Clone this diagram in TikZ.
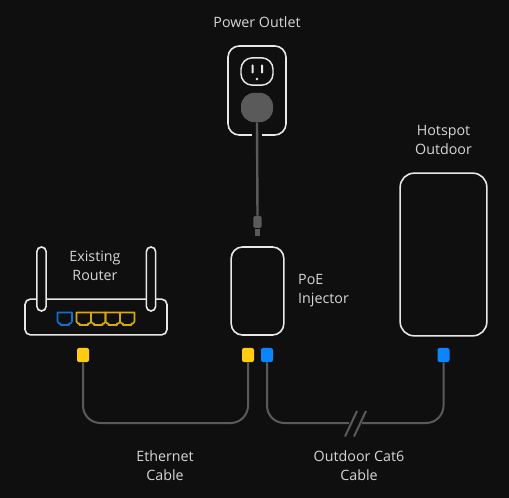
\documentclass[tikz,border=0pt]{standalone}
\usepackage{xcolor}
\usepackage{fontspec}
\setmainfont{Open Sans}
\usepackage{tikz}
\usetikzlibrary{positioning}
\definecolor{pagebg}{HTML}{0F0F0F}
\definecolor{linegray}{HTML}{5A5A5A}
\definecolor{boxline}{HTML}{E8E8E8}
\definecolor{labeltext}{HTML}{D6D6D6}
\definecolor{portyellow}{HTML}{FFCC12}
\definecolor{portblue}{HTML}{0A84FF}
\definecolor{jackblue}{HTML}{1470D0}
\definecolor{jackyellow}{HTML}{D9A912}
\tikzset{
  devbox/.style={rectangle,rounded corners=8.5pt,draw=boxline,line width=1.2pt,fill=pagebg,inner sep=0pt},
  antenna/.style={rectangle,rounded corners=3.4pt,draw=boxline,line width=1.2pt,fill=pagebg,inner sep=0pt,minimum width=6.9pt,minimum height=48pt},
  label/.style={text=labeltext,align=center,font=\fontsize{10.7}{14.25}\selectfont,inner sep=0pt},
  plugcap/.style={rectangle,rounded corners=1.6pt,minimum width=9pt,minimum height=10.6pt,inner sep=0pt},
  cable/.style={draw=linegray,line width=1.5pt,rounded corners=13pt},
  jack/.pic={\draw[line width=1.2pt,line join=round] (0,0) -- (14.5,0) -- (14.5,9) -- (13,11) -- (11.5,11) -- (11.5,12.5) -- (3,12.5) -- (3,11) -- (1.5,11) -- (0,9) -- cycle;}
}

\begin{document}
\begin{tikzpicture}[x=0.75pt,y=-0.75pt]
  \fill[pagebg] (0,0) rectangle (509,498);
  \useasboundingbox (0,0) rectangle (509,498);

  % wall outlet
  \node[devbox,minimum width=43.5pt,minimum height=66.8pt] (outlet) at (257,90.5) {};
  \draw[draw=pagebg,line width=2.5pt] ([xshift=-3.8pt]outlet.south) -- ([xshift=3.8pt]outlet.south);
  \node[rectangle,rounded corners=8.5pt,draw=boxline,line width=1.1pt,minimum width=24pt,minimum height=20.5pt,inner sep=0pt] (socket) at (257,71.5) {};
  \fill[boxline,rounded corners=0.6pt] (251.5,64.5) rectangle (253.5,73.5);
  \fill[boxline,rounded corners=0.6pt] (261,64.5) rectangle (263,73.5);
  \fill[boxline] (257,79) circle (1.1pt);
  \node[rectangle,rounded corners=10pt,fill=linegray,minimum width=24pt,minimum height=22pt,inner sep=0pt] (plug) at (257,107.5) {};
  \node[rectangle,rounded corners=1.2pt,fill=linegray,minimum width=6.2pt,minimum height=9pt,inner sep=0pt] (plughead) at (257.5,222) {};
  \node[rectangle,fill=linegray,minimum width=3.8pt,minimum height=5.5pt,inner sep=0pt,below=0pt of plughead] (plugtip) {};
  \draw[linegray,line width=1.8pt] (plug.south) -- (plughead.north);

  % devices
  \node[devbox,minimum width=39.5pt,minimum height=66pt] (injector) at (257.5,291) {};
  \node[devbox,rounded corners=10.5pt,minimum width=65pt,minimum height=122pt] (hotspot) at (443.5,254.5) {};
  \node[devbox,rounded corners=4pt,minimum width=106.5pt,minimum height=26.8pt] (router) at (96,317) {};
  \node[antenna] (antleft) at (41.5,279) {};
  \node[antenna] (antright) at (151,279) {};

  % router ports
  \pic[jackblue] at (57.5,312.5) {jack};
  \pic[jackyellow] at (76.5,312.5) {jack};
  \pic[jackyellow] at (91,312.5) {jack};
  \pic[jackyellow] at (105.5,312.5) {jack};
  \pic[jackyellow] at (120,312.5) {jack};

  % cables
  \node[plugcap,fill=portyellow] (yellowa) at (83,355) {};
  \node[plugcap,fill=portyellow] (yellowb) at (248,355) {};
  \node[plugcap,fill=portblue] (bluea) at (267,355) {};
  \node[plugcap,fill=portblue] (blueb) at (443.5,355) {};
  \coordinate (ethermid) at (165,423);
  \coordinate (breakl) at (349,423);
  \coordinate (breakr) at (362,423);
  \draw[cable] (yellowa.south) |- (ethermid) -| (yellowb.south);
  \draw[cable] (bluea.south) |- (breakl);
  \draw[cable] (blueb.south) |- (breakr);
  \draw[linegray,line width=1.5pt] ([shift={(-4,13.5)}]breakl) -- ([shift={(8,-12)}]breakl);
  \draw[linegray,line width=1.5pt] ([shift={(-8,13.5)}]breakr) -- ([shift={(4,-12)}]breakr);

  % labels
  \node[label,above=13pt of outlet] (outletlabel) {Power Outlet};
  \node[label,above=13pt of hotspot] (hotspotlabel) {Hotspot\\Outdoor};
  \node[label] (routerlabel) at (95,266) {Existing\\Router};
  \node[label,align=left,right=10pt of injector] (injectorlabel) {PoE\\Injector};
  \node[label] (etherlabel) at (165,465.5) {Ethernet\\Cable};
  \node[label] (cat6label) at (359,465.5) {Outdoor Cat6\\Cable};
\end{tikzpicture}
\end{document}
